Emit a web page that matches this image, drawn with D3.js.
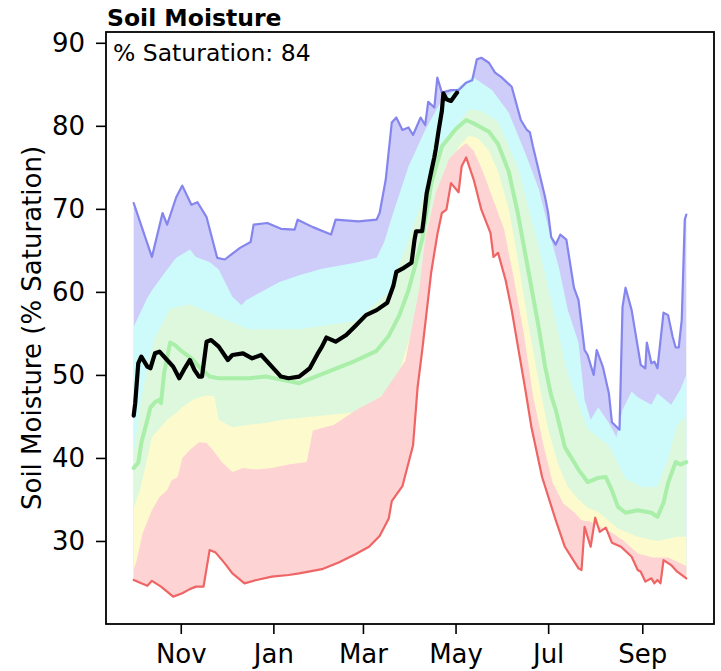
<!DOCTYPE html>
<html>
<head>
<meta charset="utf-8">
<script src="https://cdn.jsdelivr.net/npm/d3@7"></script>
<style>
  body { margin: 0; background: #fff; }
  svg { display: block; }
  text { font-family: "DejaVu Sans", sans-serif; fill: #000; }
</style>
</head>
<body>
<svg id="chart" width="721" height="671"></svg>
<script>
// Water year runs Oct 1 – Sep 30; every series is [days since Oct 1, % saturation].
const seasonStart = new Date(2022, 9, 1);

const maxSeries = [[0,70.7],[12,64.2],[19,69.5],[22,68.1],[28,71.4],[32,72.8],[38,70.5],[42,70.8],[48,69.0],[55,64.1],[60,63.9],[70,65.3],[77,66.0],[79,68.1],[88,68.3],[97,67.6],[106,67.5],[108,68.7],[118,67.8],[130,66.9],[133,68.7],[148,68.5],[160,68.7],[162,69.5],[166,73.5],[170,80.4],[173,81.0],[177,79.5],[181,79.8],[184,78.9],[189,81.0],[192,80.1],[194,82.9],[198,82.2],[200,85.8],[203,84.0],[209,84.3],[214,84.3],[219,85.2],[223,85.5],[226,88.0],[229,88.2],[234,87.6],[238,86.4],[242,85.9],[249,84.7],[255,80.7],[259,79.5],[261,79.2],[263,77.5],[271,71.4],[273,69.5],[275,66.6],[278,65.7],[281,66.9],[285,66.3],[290,60.5],[293,59.0],[297,53.0],[299,52.4],[303,50.0],[305,53.0],[309,51.0],[313,47.8],[315,44.3],[320,43.4],[322,58.2],[324,60.5],[328,57.8],[334,51.2],[337,50.8],[338,53.9],[341,51.4],[343,51.6],[345,50.8],[349,57.5],[352,57.2],[355,54.6],[357,53.3],[359,53.3],[361,56.6],[363,68.7],[364,69.3]];

const p90Series = [[0,55.8],[9,59.3],[12,60.2],[22,62.7],[28,64.1],[37,65.1],[41,64.2],[50,63.6],[56,62.7],[65,59.4],[71,58.4],[74,59.0],[83,59.9],[96,61.2],[109,62.0],[124,62.8],[146,63.5],[160,64.1],[165,66.0],[170,69.0],[181,75.1],[192,79.5],[203,83.1],[214,84.7],[223,85.9],[229,85.2],[236,84.3],[247,81.6],[258,76.7],[267,72.3],[275,66.3],[280,63.0],[286,57.8],[293,53.9],[297,47.0],[301,44.6],[306,46.1],[313,44.2],[318,42.5],[322,45.8],[328,48.0],[332,47.3],[341,46.4],[345,47.8],[354,46.4],[360,48.2],[364,50.0]];

const p70Series = [[0,40.5],[5,47.0],[9,51.0],[14,54.5],[24,58.0],[37,58.5],[56,57.0],[76,55.5],[109,55.5],[146,56.5],[168,60.0],[181,66.3],[194,73.1],[208,78.8],[221,82.0],[229,81.8],[240,80.5],[253,75.0],[266,66.0],[275,59.0],[286,50.0],[299,43.5],[313,41.5],[324,37.5],[335,36.5],[345,36.5],[352,40.0],[358,44.0],[364,45.0]];

const medianSeries = [[0,38.8],[3,39.4],[5,41.8],[9,44.6],[11,46.1],[14,46.7],[17,47.0],[18,46.6],[20,50.2],[24,53.9],[27,53.6],[32,52.8],[38,52.0],[43,51.0],[50,49.8],[56,49.6],[76,49.6],[87,49.8],[98,49.4],[109,49.0],[124,50.1],[146,51.7],[160,52.9],[168,54.7],[175,57.2],[181,60.2],[190,66.3],[196,73.1],[203,77.5],[212,79.6],[219,80.7],[225,80.2],[234,79.3],[240,77.8],[247,74.5],[253,69.5],[260,62.5],[267,55.5],[271,51.0],[275,47.5],[278,45.8],[284,41.3],[288,40.1],[293,38.6],[299,37.1],[306,37.6],[311,37.7],[315,36.1],[319,34.1],[324,33.4],[332,33.7],[341,33.4],[345,32.9],[349,34.6],[352,37.0],[357,39.5],[360,39.2],[364,39.5]];

const p30Series = [[0,34.0],[4,36.0],[9,40.0],[12,42.5],[22,44.6],[28,45.4],[32,46.1],[39,47.0],[47,47.5],[53,47.5],[56,44.6],[65,43.7],[76,44.0],[87,44.2],[98,44.6],[109,44.8],[146,45.5],[168,48.0],[175,50.5],[181,54.0],[188,58.5],[194,65.0],[201,71.0],[208,75.0],[214,77.5],[221,78.8],[227,78.5],[234,77.0],[240,74.5],[247,70.0],[253,64.0],[260,56.0],[267,49.0],[273,43.5],[280,39.0],[286,36.5],[293,35.0],[299,34.0],[306,33.5],[319,31.5],[332,30.5],[345,30.0],[358,30.5],[364,30.5]];

const p10Series = [[0,26.5],[2,27.7],[6,31.0],[12,33.7],[17,35.3],[22,36.1],[25,37.3],[29,37.7],[32,40.0],[37,41.0],[43,41.9],[48,41.8],[52,41.0],[58,39.5],[65,38.3],[72,38.8],[81,38.6],[91,38.8],[102,39.2],[114,39.5],[118,43.3],[132,44.0],[146,45.7],[163,47.4],[179,51.7],[188,60.2],[192,66.3],[199,71.9],[208,76.1],[216,77.5],[219,77.9],[224,77.0],[230,74.5],[237,71.0],[244,67.5],[250,62.0],[257,55.0],[263,47.5],[270,41.5],[276,37.0],[283,34.5],[290,33.5],[295,32.5],[301,32.3],[306,31.8],[315,31.0],[323,30.0],[332,28.5],[342,28.0],[352,28.0],[364,27.0]];

const minSeries = [[0,25.3],[5,24.9],[9,24.6],[12,25.2],[18,24.5],[22,23.9],[26,23.3],[32,23.7],[37,24.2],[41,24.5],[46,24.5],[50,28.9],[54,28.6],[60,27.3],[65,26.1],[73,24.9],[81,25.3],[91,25.7],[102,25.9],[109,26.1],[124,26.6],[135,27.4],[146,28.4],[155,29.3],[162,30.6],[168,32.7],[170,34.8],[177,36.6],[180,38.7],[184,41.5],[187,48.5],[190,52.9],[196,62.4],[200,66.9],[203,69.5],[206,69.9],[209,73.1],[214,72.0],[216,75.1],[219,76.2],[224,73.5],[229,69.9],[235,67.1],[237,64.2],[240,64.7],[245,61.4],[249,57.8],[258,48.2],[262,43.7],[269,37.7],[278,32.5],[284,29.3],[293,26.7],[295,26.5],[297,31.7],[301,29.3],[304,32.8],[307,31.1],[311,31.6],[315,29.8],[321,29.3],[328,28.1],[332,26.5],[334,26.3],[337,25.1],[341,25.5],[343,24.9],[345,25.3],[347,24.9],[349,27.7],[354,27.1],[358,26.3],[364,25.5]];

const currentSeries = [[0,45.1],[1,46.6],[3,51.4],[5,52.2],[9,51.0],[11,50.8],[14,52.6],[17,52.8],[22,51.8],[26,51.0],[30,49.6],[33,50.6],[37,51.8],[40,50.6],[43,49.8],[45,49.8],[48,54.0],[51,54.2],[56,53.4],[62,51.8],[65,52.4],[72,52.6],[78,52.0],[84,52.4],[91,51.0],[97,49.8],[102,49.6],[109,49.8],[116,50.8],[121,52.5],[124,53.4],[127,54.5],[133,54.0],[140,54.8],[146,55.9],[153,57.2],[160,57.8],[167,58.7],[171,60.7],[173,62.4],[178,62.9],[183,63.5],[185,66.3],[186,67.3],[190,67.3],[191,68.7],[193,71.9],[196,74.5],[198,76.2],[199,77.2],[201,79.6],[203,81.8],[204,83.9],[206,83.2],[209,83.0],[211,83.5],[213,84.0]];

const currentValue = 84;
const monthTicks = ["2022-11-01", "2023-01-01", "2023-03-01", "2023-05-01", "2023-07-01", "2023-09-01"];
const monthLabels = ["Nov", "Jan", "Mar", "May", "Jul", "Sep"];
const yTicks = [30, 40, 50, 60, 70, 80, 90];

const svg = d3.select("#chart");
const plot = { left: 106, right: 714, top: 32, bottom: 624 };

const toDate = d => d3.timeDay.offset(seasonStart, d);
const pad = 18.25 * 24; // hours of margin either side of the season
const x = d3.scaleTime()
  .domain([d3.timeHour.offset(toDate(0), -pad), d3.timeHour.offset(toDate(364), pad)])
  .range([plot.left, plot.right]);
const y = d3.scaleLinear().domain([20, 91.3]).range([plot.bottom, plot.top]);

const line = d3.line().x(d => x(toDate(d[0]))).y(d => y(d[1]));

svg.append("defs").append("clipPath").attr("id", "plot-clip")
  .append("rect")
  .attr("x", plot.left).attr("y", plot.top)
  .attr("width", plot.right - plot.left).attr("height", plot.bottom - plot.top);

const g = svg.append("g").attr("clip-path", "url(#plot-clip)");

// Percentile bands: each fill runs from its upper bound down to the minimum,
// drawn top band first so the next band covers the part below it.
const bands = [
  { upper: maxSeries, color: "#ceccf8" },
  { upper: p90Series, color: "#cdfbfb" },
  { upper: p70Series, color: "#ddf8dd" },
  { upper: p30Series, color: "#fdfbcd" },
  { upper: p10Series, color: "#fdd3d3" }
];
const lowerEdge = minSeries.slice().reverse();
bands.forEach(b => {
  g.append("path")
    .attr("d", line(b.upper.concat(lowerEdge)) + "Z")
    .attr("fill", b.color)
    .attr("stroke", "none");
});

const drawLine = (data, color, width) => g.append("path")
  .attr("d", line(data))
  .attr("fill", "none")
  .attr("stroke", color)
  .attr("stroke-width", width)
  .attr("stroke-linejoin", "round")
  .attr("stroke-linecap", "round");

drawLine(maxSeries, "#8585ee", 2.2);
drawLine(minSeries, "#ef6464", 2.2);
drawLine(medianSeries, "#a9eea9", 4);
drawLine(currentSeries, "#000", 4.2);

// Axes
const yAxis = d3.axisLeft(y).tickValues(yTicks).tickSize(10).tickPadding(11);
const xAxis = d3.axisBottom(x)
  .tickValues(monthTicks.map(s => d3.timeParse("%Y-%m-%d")(s)))
  .tickFormat((d, i) => monthLabels[i])
  .tickSize(10).tickPadding(11);

const ya = svg.append("g").attr("transform", `translate(${plot.left},0)`).call(yAxis);
const xa = svg.append("g").attr("transform", `translate(0,${plot.bottom})`).call(xAxis);
[ya, xa].forEach(a => {
  a.select(".domain").remove();
  a.selectAll(".tick line").attr("stroke", "#000").attr("stroke-width", 1.6);
  a.selectAll(".tick text").attr("font-size", 26).attr("font-family", "DejaVu Sans, sans-serif").attr("fill", "#000");
});

svg.append("rect")
  .attr("x", plot.left).attr("y", plot.top)
  .attr("width", plot.right - plot.left).attr("height", plot.bottom - plot.top)
  .attr("fill", "none").attr("stroke", "#000").attr("stroke-width", 1.8);

svg.append("text")
  .attr("x", plot.left + 1).attr("y", 26)
  .attr("font-size", 23.5).attr("font-weight", "bold")
  .text("Soil Moisture");

svg.append("text")
  .attr("x", plot.left + 7).attr("y", 61)
  .attr("font-size", 23.5)
  .text(`% Saturation: ${currentValue}`);

svg.append("text")
  .attr("transform", `translate(41,${(plot.top + plot.bottom) / 2}) rotate(-90)`)
  .attr("text-anchor", "middle")
  .attr("font-size", 26)
  .text("Soil Moisture (% Saturation)");
</script>
</body>
</html>
